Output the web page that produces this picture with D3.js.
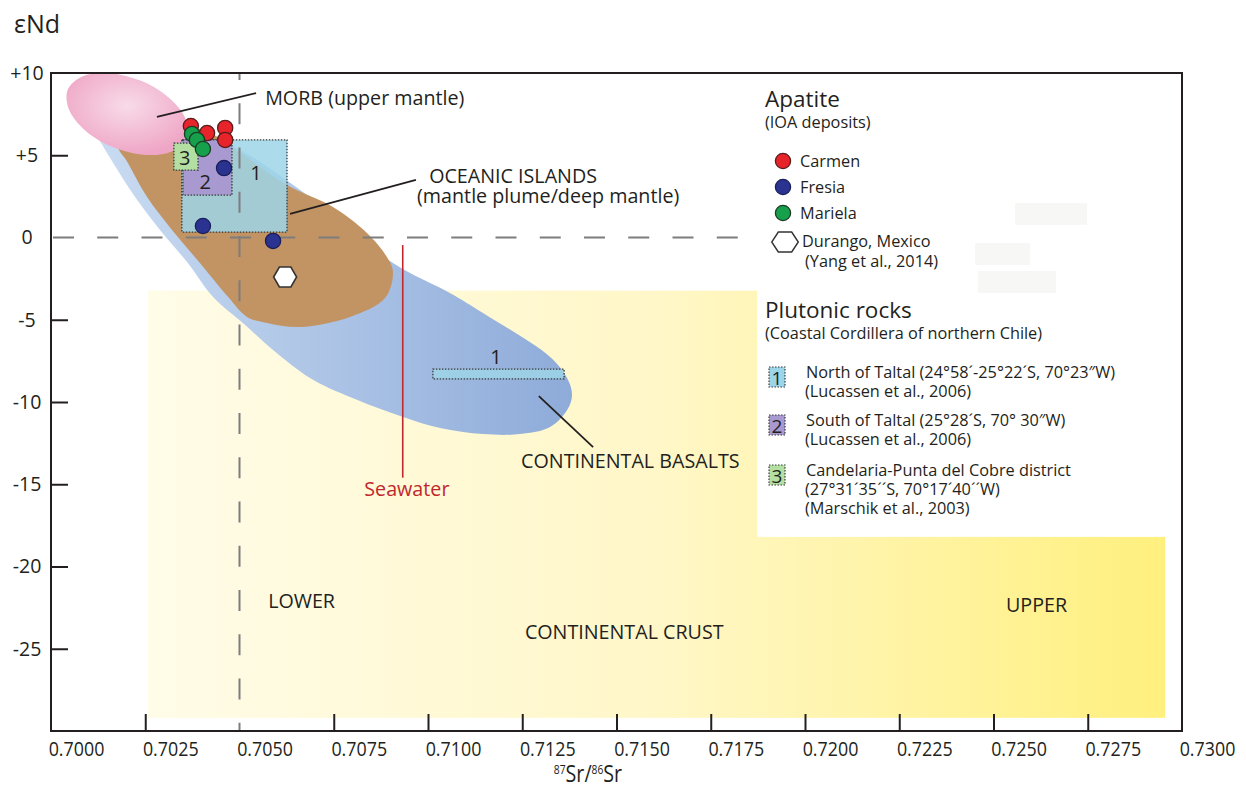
<!DOCTYPE html>
<html>
<head>
<meta charset="utf-8">
<script src="https://cdn.jsdelivr.net/npm/d3@7/dist/d3.min.js"></script>
<style>
  html, body { margin: 0; padding: 0; background: #fff; }
  svg { display: block; font-family: "Open Sans", sans-serif; }
</style>
</head>
<body>
<svg id="chart" width="1246" height="807"></svg>
<script>
// ---- Axis ticks ----
const srTicks = [0.7000, 0.7025, 0.7050, 0.7075, 0.7100, 0.7125, 0.7150, 0.7175, 0.7200, 0.7225, 0.7250, 0.7275, 0.7300];
const srTickMarks = [0.7025, 0.7075, 0.7100, 0.7125, 0.7150, 0.7175, 0.7200, 0.7225, 0.7250, 0.7275];
const ndTicks = [10, 5, 0, -5, -10, -15, -20, -25];
const ndTickLabels = ["+10", "+5", "0", "-5", "-10", "-15", "-20", "-25"];
const ndTickMarks = [5, -5, -10, -15, -20, -25];

// ---- Apatite analyses: [87Sr/86Sr, εNd] ----
const carmen  = [[0.70371, 6.78], [0.70414, 6.35], [0.70462, 6.66], [0.70462, 5.93]];
const mariela = [[0.70374, 6.29], [0.70387, 5.93], [0.70403, 5.38]];
const fresia  = [[0.70459, 4.22], [0.70403, 0.70], [0.70589, -0.21]];
const durango = [[0.70621, -2.40]];

// ---- Plutonic rock ranges: [Sr min, Sr max, Nd min, Nd max] ----
const plutonicNames = ["1", "2", "3"];
const plutonicNorthTaltal = [0.70347, 0.70626, 0.33, 5.93];
const plutonicSouthTaltal = [0.70350, 0.70480, 2.58, 5.93];
const plutonicCandelaria  = [0.70326, 0.70390, 4.10, 5.74];
const plutonicNorthTaltal2 = [0.71013, 0.71361, -8.60, -8.00];

// ---- Reservoir fields (outlines in Sr, Nd) ----
const morbField = [
  [0.70359, 6.05], [0.70320, 5.23], [0.70249, 5.02], [0.70166, 5.48], [0.70092, 6.48], [0.70048, 7.76],
  [0.70044, 8.97], [0.70083, 9.79], [0.70154, 9.99], [0.70237, 9.54], [0.70311, 8.53], [0.70356, 7.26]
];
const oceanIslandField = [
  [0.70178, 5.62], [0.70230, 6.30], [0.70395, 6.60], [0.70480, 5.50], [0.70626, 3.19], [0.70748, 1.85],
  [0.70838, 0.27], [0.70891, -1.19], [0.70907, -2.10], [0.70886, -3.68], [0.70793, -4.83], [0.70661, -5.44],
  [0.70573, -5.20], [0.70520, -4.83], [0.70470, -3.62], [0.70395, -1.55], [0.70321, 0.46], [0.70255, 2.46],
  [0.70204, 4.53]
];
const continentalBasaltField = [
  [0.70130, 7.63], [0.70263, 7.02], [0.70475, 5.62], [0.70661, 2.89], [0.70907, -1.55], [0.71058, -3.37],
  [0.71146, -4.59], [0.71324, -7.26], [0.71369, -8.54], [0.71382, -9.57], [0.71369, -10.49], [0.71324, -11.52],
  [0.71244, -11.95], [0.71146, -11.95], [0.71032, -11.58], [0.70934, -10.91], [0.70793, -9.70], [0.70687, -8.54],
  [0.70589, -6.84], [0.70515, -5.32], [0.70430, -3.62], [0.70363, -1.55], [0.70289, 0.46], [0.70223, 2.46],
  [0.70165, 4.53], [0.70122, 6.23], [0.70109, 7.14]
];
const continentalCrust = [0.70257, 0.72955, -29.2, -3.23];
const seawaterSr = 0.70933;
const seawaterNd = [-0.46, -14.6];

// ---- Scales ----
const svg = d3.select("#chart");
const x = d3.scaleLinear().domain([0.7000, 0.7300]).range([51, 1182]);
const y = d3.scaleLinear().domain([-30, 10]).range([731, 73]);
const ink = "#231f20";

// ---- Gradients ----
const defs = svg.append("defs");
const crustGrad = defs.append("linearGradient").attr("id", "crustGrad")
  .attr("gradientUnits", "userSpaceOnUse")
  .attr("x1", x(continentalCrust[0])).attr("x2", x(continentalCrust[1])).attr("y1", 0).attr("y2", 0);
crustGrad.append("stop").attr("offset", 0).attr("stop-color", "#fffce8");
crustGrad.append("stop").attr("offset", 0.5).attr("stop-color", "#fff7c8");
crustGrad.append("stop").attr("offset", 1).attr("stop-color", "#fff07e");

const basaltGrad = defs.append("linearGradient").attr("id", "basaltGrad")
  .attr("gradientUnits", "userSpaceOnUse")
  .attr("x1", x(0.7010)).attr("x2", x(0.7138)).attr("y1", 0).attr("y2", 0);
basaltGrad.append("stop").attr("offset", 0).attr("stop-color", "#cadcf2");
basaltGrad.append("stop").attr("offset", 1).attr("stop-color", "#8eabd9");

const morbGrad = defs.append("radialGradient").attr("id", "morbGrad")
  .attr("cx", "0.5").attr("cy", "0.4").attr("r", "0.6");
morbGrad.append("stop").attr("offset", 0).attr("stop-color", "#f8dbe8");
morbGrad.append("stop").attr("offset", 1).attr("stop-color", "#efa6c6");

// ---- Continental crust and legend panel ----
svg.append("rect")
  .attr("x", x(continentalCrust[0])).attr("y", y(continentalCrust[3]))
  .attr("width", x(continentalCrust[1]) - x(continentalCrust[0]))
  .attr("height", y(continentalCrust[2]) - y(continentalCrust[3]))
  .attr("fill", "url(#crustGrad)");

svg.append("rect")
  .attr("x", x(0.71873)).attr("y", y(10))
  .attr("width", x(0.7300) - x(0.71873)).attr("height", y(-18.2) - y(10))
  .attr("fill", "#ffffff");

// faint patches in the legend panel
[[1015, 203, 72, 22], [975, 243, 55, 22], [978, 271, 78, 22]].forEach(r => {
  svg.append("rect").attr("x", r[0]).attr("y", r[1]).attr("width", r[2]).attr("height", r[3])
    .attr("fill", "#f7f7f5");
});

// ---- Fields ----
const outline = d3.line().x(d => x(d[0])).y(d => y(d[1])).curve(d3.curveCatmullRomClosed.alpha(0.5));
svg.append("path").attr("d", outline(continentalBasaltField)).attr("fill", "url(#basaltGrad)");
svg.append("path").attr("d", outline(oceanIslandField)).attr("fill", "#c29463");
svg.append("path").attr("d", outline(morbField)).attr("fill", "url(#morbGrad)");

// ---- Plutonic boxes ----
const boxFill = ["#9dd5e8", "#a899d0", "#b3dfa3"];
const boxOpacity = [0.85, 1, 1];
function drawBox(b, i) {
  svg.append("rect")
    .attr("x", x(b[0])).attr("y", y(b[3]))
    .attr("width", x(b[1]) - x(b[0])).attr("height", y(b[2]) - y(b[3]))
    .attr("fill", boxFill[i]).attr("fill-opacity", boxOpacity[i])
    .attr("stroke", "#3a3a3a").attr("stroke-width", 1.3).attr("stroke-dasharray", "1.5,1.5");
}
drawBox(plutonicNorthTaltal, 0);
drawBox(plutonicNorthTaltal2, 0);
drawBox(plutonicSouthTaltal, 1);
drawBox(plutonicCandelaria, 2);

const boxLabels = [
  [plutonicNames[0], 0.70544, 3.98],
  [plutonicNames[1], 0.70409, 3.43],
  [plutonicNames[2], 0.70355, 4.89],
  [plutonicNames[0], 0.71180, -7.26]
];
svg.selectAll("text.boxlab").data(boxLabels).join("text").attr("class", "boxlab")
  .attr("x", d => x(d[1])).attr("y", d => y(d[2]))
  .attr("text-anchor", "middle").attr("dominant-baseline", "central")
  .attr("font-size", 20).attr("fill", ink).text(d => d[0]);

// ---- Reference lines (bulk earth) ----
svg.append("line")
  .attr("x1", x(0.7000)).attr("x2", x(0.71850)).attr("y1", y(0)).attr("y2", y(0))
  .attr("stroke", "#7d7d7d").attr("stroke-width", 2)
  .attr("stroke-dasharray", "21,23.25").attr("stroke-dashoffset", 42.25);
svg.append("line")
  .attr("x1", x(0.7050)).attr("x2", x(0.7050)).attr("y1", y(10)).attr("y2", y(-30))
  .attr("stroke", "#7d7d7d").attr("stroke-width", 2)
  .attr("stroke-dasharray", "21,23.25").attr("stroke-dashoffset", 14);

// ---- Seawater ----
svg.append("line")
  .attr("x1", x(seawaterSr)).attr("x2", x(seawaterSr))
  .attr("y1", y(seawaterNd[0])).attr("y2", y(seawaterNd[1]))
  .attr("stroke", "#c1272d").attr("stroke-width", 1.6);

// ---- Leader lines ----
const leaders = [
  [[0.70281, 7.33], [0.70544, 8.78]],
  [[0.70634, 1.43], [0.70968, 3.50]],
  [[0.71294, -9.64], [0.71438, -12.74]]
];
leaders.forEach(l => {
  svg.append("line")
    .attr("x1", x(l[0][0])).attr("y1", y(l[0][1]))
    .attr("x2", x(l[1][0])).attr("y2", y(l[1][1]))
    .attr("stroke", ink).attr("stroke-width", 1.8);
});

// ---- Apatite points ----
const hexPath = d3.line()([[-11.5, 0], [-5.75, -10], [5.75, -10], [11.5, 0], [5.75, 10], [-5.75, 10]]) + "Z";
function drawPoints(arr, fill, stroke) {
  svg.append("g").selectAll("circle").data(arr).join("circle")
    .attr("cx", d => x(d[0])).attr("cy", d => y(d[1])).attr("r", 7.6)
    .attr("fill", fill).attr("stroke", stroke).attr("stroke-width", 1.3);
}
drawPoints(carmen, "#e8242b", "#5a1c1c");
drawPoints(mariela, "#17a04b", "#1d3b25");
drawPoints(fresia, "#2b3391", "#1a1f5a");
svg.append("g").selectAll("path").data(durango).join("path")
  .attr("transform", d => `translate(${x(d[0])},${y(d[1])})`)
  .attr("d", hexPath).attr("fill", "#ffffff").attr("stroke", "#333").attr("stroke-width", 1.6);

// ---- Field annotations ----
const annotations = [
  ["MORB (upper mantle)", 0.70568, 8.05, "start", ink],
  ["OCEANIC ISLANDS", 0.71003, 3.31, "start", ink],
  ["(mantle plume/deep mantle)", 0.70971, 2.10, "start", ink],
  ["CONTINENTAL BASALTS", 0.71247, -14.01, "start", ink],
  ["Seawater", 0.70944, -15.71, "middle", "#c1272d"],
  ["LOWER", 0.70576, -22.52, "start", ink],
  ["CONTINENTAL CRUST", 0.71257, -24.38, "start", ink],
  ["UPPER", 0.72533, -22.77, "start", ink]
];
svg.selectAll("text.ann").data(annotations).join("text").attr("class", "ann")
  .attr("x", d => x(d[1])).attr("y", d => y(d[2]))
  .attr("text-anchor", d => d[3]).attr("fill", d => d[4])
  .attr("font-size", 19.7).text(d => d[0]);

// ---- Axes ----
const yTickAxis = d3.axisLeft(y).tickValues(ndTickMarks).tickSize(-17).tickFormat("");
svg.append("g").attr("transform", "translate(51,0)").call(yTickAxis)
  .call(g => g.select(".domain").remove())
  .call(g => g.selectAll("line").attr("stroke", ink).attr("stroke-width", 2));

const xTickAxis = d3.axisBottom(x).tickValues(srTickMarks).tickSize(-17).tickFormat("");
svg.append("g").attr("transform", "translate(0,731)").call(xTickAxis)
  .call(g => g.select(".domain").remove())
  .call(g => g.selectAll("line").attr("stroke", ink).attr("stroke-width", 2));

const yLabelAxis = d3.axisLeft(y).tickValues(ndTicks).tickSize(0)
  .tickFormat((d, i) => ndTickLabels[i]);
svg.append("g").attr("transform", "translate(51,0)").call(yLabelAxis)
  .call(g => g.select(".domain").remove())
  .call(g => g.selectAll("text").attr("x", -24).attr("text-anchor", "middle")
    .attr("font-family", "Open Sans, sans-serif").attr("font-size", 19.5).attr("fill", ink));

// x tick labels are set in a slightly condensed face
const xLabelAxis = d3.axisBottom(x).tickValues(srTicks).tickSize(0).tickFormat(d3.format(".4f"));
svg.append("g").attr("transform", "translate(0,731)").call(xLabelAxis)
  .call(g => g.select(".domain").remove())
  .call(g => g.selectAll("text").attr("y", 0).attr("dy", null)
    .attr("transform", "translate(25,25) scale(0.87,1)")
    .attr("font-family", "Open Sans, sans-serif").attr("font-size", 20.5).attr("fill", ink));

// frame
svg.append("rect").attr("x", x(0.7000)).attr("y", y(10))
  .attr("width", x(0.7300) - x(0.7000)).attr("height", y(-30) - y(10))
  .attr("fill", "none").attr("stroke", ink).attr("stroke-width", 2);

// axis titles
svg.append("text").attr("x", 14).attr("y", 33).attr("font-size", 25).attr("fill", ink).text("εNd");
const xt = svg.append("text").attr("transform", "translate(588,782) scale(0.82,1)")
  .attr("text-anchor", "middle").attr("font-size", 24).attr("fill", ink);
xt.append("tspan").attr("font-size", 12.5).attr("dy", -8).text("87");
xt.append("tspan").attr("dy", 8).text("Sr/");
xt.append("tspan").attr("font-size", 12.5).attr("dy", -8).text("86");
xt.append("tspan").attr("dy", 8).text("Sr");

// ---- Legend ----
const lg = svg.append("g");
lg.append("text").attr("x", 765).attr("y", 107).attr("font-size", 22.5).attr("fill", ink).text("Apatite");
lg.append("text").attr("x", 765).attr("y", 128).attr("font-size", 16.3).attr("fill", ink).text("(IOA deposits)");

const apatiteNames = ["Carmen", "Fresia", "Mariela"];
const apatiteFill = ["#e8242b", "#2b3391", "#17a04b"];
const apatiteStroke = ["#5a1c1c", "#1a1f5a", "#1d3b25"];
apatiteNames.forEach((n, i) => {
  const cy = 161 + i * 26;
  lg.append("circle").attr("cx", 783).attr("cy", cy).attr("r", 7.6)
    .attr("fill", apatiteFill[i]).attr("stroke", apatiteStroke[i]).attr("stroke-width", 1.3);
  lg.append("text").attr("x", 800).attr("y", cy + 6).attr("font-size", 16.3).attr("fill", ink).text(n);
});
lg.append("path").attr("transform", "translate(785,242) scale(1.15,1.0)")
  .attr("d", hexPath).attr("fill", "#fff").attr("stroke", "#333").attr("stroke-width", 1.4);
lg.append("text").attr("x", 802).attr("y", 247).attr("font-size", 16.3).attr("fill", ink).text("Durango, Mexico");
lg.append("text").attr("x", 805).attr("y", 267).attr("font-size", 16.3).attr("fill", ink).text("(Yang et al., 2014)");

lg.append("text").attr("x", 765).attr("y", 318).attr("font-size", 22.5).attr("fill", ink).text("Plutonic rocks");
lg.append("text").attr("x", 765).attr("y", 339).attr("font-size", 16.3).attr("fill", ink)
  .text("(Coastal Cordillera of northern Chile)");

const plutonicLegend = [
  ["North of Taltal (24°58´-25°22´S, 70°23″W)", "(Lucassen et al., 2006)"],
  ["South of Taltal (25°28´S, 70° 30″W)", "(Lucassen et al., 2006)"],
  ["Candelaria-Punta del Cobre district", "(27°31´35´´S, 70°17´40´´W)", "(Marschik et al., 2003)"]
];
const legendBoxTop = [367, 415, 465];
plutonicLegend.forEach((lines, i) => {
  const top = legendBoxTop[i];
  lg.append("rect").attr("x", 769).attr("y", top).attr("width", 16).attr("height", 20)
    .attr("fill", boxFill[i]).attr("stroke", "#3a3a3a").attr("stroke-width", 1.2)
    .attr("stroke-dasharray", "1.5,1.5");
  lg.append("text").attr("x", 777).attr("y", top + 10.5).attr("text-anchor", "middle")
    .attr("dominant-baseline", "central").attr("font-size", 19).attr("fill", ink).text(plutonicNames[i]);
  lines.forEach((t, j) => {
    lg.append("text").attr("x", j === 0 ? 806 : 805).attr("y", top + 11 + j * 19)
      .attr("font-size", 16.3).attr("fill", ink).text(t);
  });
});
</script>
</body>
</html>
